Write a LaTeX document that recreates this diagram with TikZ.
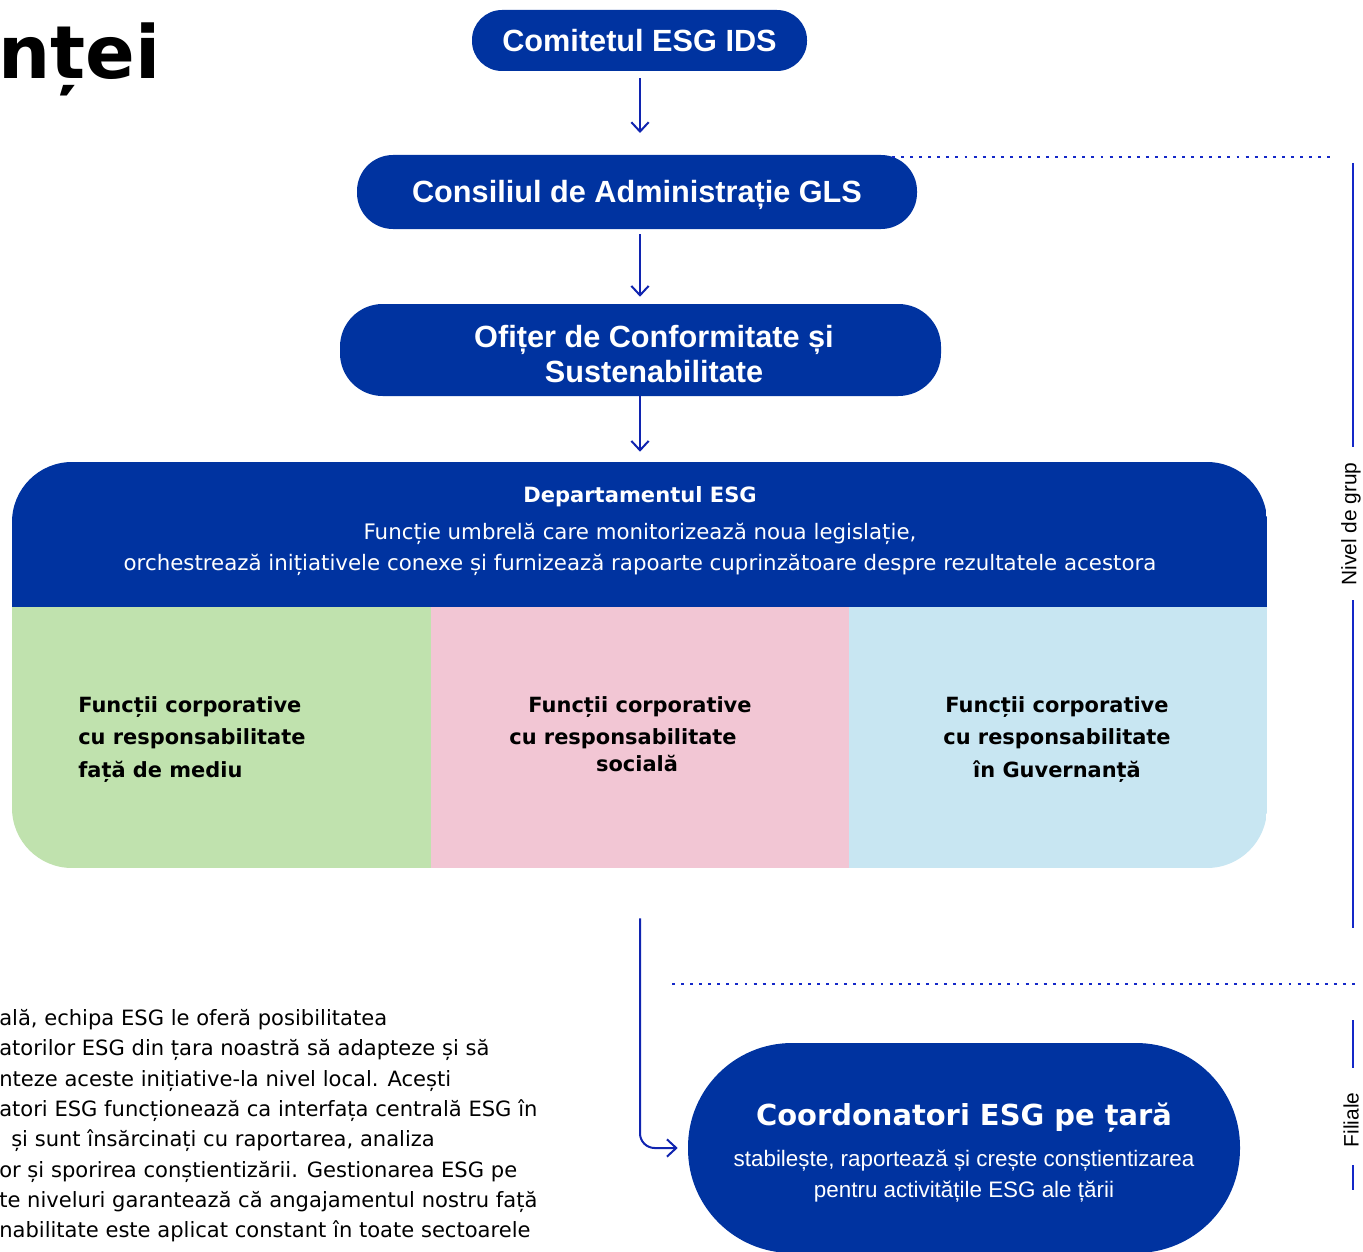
\documentclass[tikz,border=0pt]{standalone}
\usepackage{fontspec}
\setmainfont{DejaVu Sans}
\newfontfamily\tah{Liberation Sans}
\usetikzlibrary{arrows.meta}
\definecolor{navy}{RGB}{0,51,160}
\definecolor{lblue}{RGB}{16,36,176}
\definecolor{sblue}{RGB}{20,40,200}
\definecolor{gfill}{RGB}{192,226,174}
\definecolor{pfill}{RGB}{242,198,212}
\definecolor{bfill}{RGB}{200,230,242}
\begin{document}
\begin{tikzpicture}[x=0.75pt,y=-0.75pt,
  pill/.style={fill=navy, inner sep=0pt, text=white},
  hdr/.style={font=\tah\bfseries\fontsize{23}{30}\selectfont, text height=16.4pt, text depth=0pt},
  conn/.style={draw=lblue, line width=1.5pt, -{Straight Barb[length=7pt,width=13pt,line width=1.5pt]}},
  side/.style={draw=sblue, line width=1.6pt},
  dots/.style={draw=sblue, line width=2.2pt, dash pattern=on 2.2pt off 4.6pt},
  txt/.style={inner sep=0pt, anchor=base},
  para/.style={inner sep=0pt, anchor=base west, font=\fontsize{15.8}{20}\selectfont},
  cbox/.style={inner sep=0pt, anchor=base, font=\bfseries\fontsize{15.7}{20}\selectfont},
  wtxt/.style={inner sep=0pt, anchor=base, text=white, font=\fontsize{16}{20}\selectfont}
]
\useasboundingbox (0,0) rectangle (1363,1252);

% title fragment
\node[inner sep=0pt, anchor=base east, font=\bfseries\fontsize{55}{60}\selectfont] (title) at (161,79) {nței};

% top nodes
\node[pill, hdr, minimum width=335*0.75pt, minimum height=61*0.75pt, rounded corners=22.5pt] (comitet) at (639.5,40.5) {Comitetul ESG IDS};
\node[pill, hdr, minimum width=560*0.75pt, minimum height=74*0.75pt, rounded corners=27pt] (consiliu) at (637,192) {Consiliul de Administrație GLS};
\node[pill, minimum width=601*0.75pt, minimum height=92*0.75pt, rounded corners=32pt] (ofiter) at (640.5,350) {};
\node[txt, text=white, font=\tah\bfseries\fontsize{23}{30}\selectfont] (of1) at (654,347) {Ofițer de Conformitate și};
\node[txt, text=white, font=\tah\bfseries\fontsize{23}{30}\selectfont] (of2) at (654,382) {Sustenabilitate};

% big ESG box
\begin{scope}
\clip[rounded corners=45pt] (12,462) rectangle (1267,868);
\fill[navy] (12,462) rectangle (1267,607.5);
\fill[gfill] (12,607) rectangle (431,868);
\fill[pfill] (431,607) rectangle (849,868);
\fill[bfill] (849,607) rectangle (1267,868);
\end{scope}
\node[inner sep=0pt, minimum width=1255*0.75pt, minimum height=406*0.75pt] (esg) at (639.5,665) {};

\node[wtxt, font=\bfseries\fontsize{15.8}{20}\selectfont] (dep) at (640,502) {Departamentul ESG};
\node[wtxt] (dep1) at (640,539) {Funcție umbrelă care monitorizează noua legislație,};
\node[wtxt] (dep2) at (640,570) {orchestrează inițiativele conexe și furnizează rapoarte cuprinzătoare despre rezultatele acestora};

\node[cbox, anchor=base west] (g1) at (78,712) {Funcții corporative};
\node[cbox, anchor=base west] (g2) at (78,744) {cu responsabilitate};
\node[cbox, anchor=base west] (g3) at (78,777) {față de mediu};

\node[cbox] (p1) at (640,712) {Funcții corporative};
\node[cbox] (p2) at (623,744) {cu responsabilitate};
\node[cbox] (p3) at (637,771) {socială};

\node[cbox] (b1) at (1057,712) {Funcții corporative};
\node[cbox] (b2) at (1057,744) {cu responsabilitate};
\node[cbox] (b3) at (1057,777) {în Guvernanță};

% country coordinators
\node[pill, minimum width=552*0.75pt, minimum height=210*0.75pt, rounded corners=78pt] (coord) at (964,1148) {};
\node[txt, text=white, font=\bfseries\fontsize{21.7}{26}\selectfont] (c1) at (964,1125) {Coordonatori ESG pe țară};
\node[txt, text=white, font=\tah\fontsize{16.8}{22}\selectfont] (c2) at (964,1166) {stabilește, raportează și crește conștientizarea};
\node[txt, text=white, font=\tah\fontsize{16.8}{22}\selectfont] (c3) at (964,1197) {pentru activitățile ESG ale țării};

% connectors
\draw[conn, shorten <=5.25pt, shorten >=16.5pt] (comitet.south -| 640,0) -- (640,155);
\draw[conn, shorten <=3.75pt, shorten >=5.25pt] (consiliu.south -| 640,0) -- (ofiter.north -| 640,0);
\draw[conn, shorten >=7.5pt] (ofiter.south -| 640,0) -- (esg.north -| 640,0);
\draw[conn, rounded corners=11pt, shorten <=37.5pt, shorten >=7.5pt] (esg.south -| 640,0) |- (coord.west);

% level markers
\draw[dots] (892,157) -- (1335,157);
\draw[dots] (672,984) -- (1355,984);
\draw[side] (1353,163) -- (1353,447);
\draw[side] (1353,600) -- (1353,928);
\draw[side] (1353,1020) -- (1353,1068);
\draw[side] (1353,1165) -- (1353,1190);
\node[rotate=90, inner sep=0pt, font=\tah\fontsize{15.7}{18}\selectfont] (nivel) at (1351,524) {Nivel de grup};
\node[rotate=90, inner sep=0pt, font=\tah\fontsize{15.7}{18}\selectfont] (filiale) at (1351,1120) {Filiale};

% paragraph
\node[para] (l1) at (-1,1025) {ală, echipa ESG le oferă posibilitatea};
\node[para] (l2) at (-1,1055) {atorilor ESG din țara noastră să adapteze și să};
\node[para] (l3) at (-1,1086) {nteze aceste inițiative-la nivel local. Acești};
\node[para] (l4) at (-1,1116) {atori ESG funcționează ca interfața centrală ESG în};
\node[para] (l5) at (11,1146) {și sunt însărcinați cu raportarea, analiza};
\node[para] (l6) at (-1,1177) {or și sporirea conștientizării. Gestionarea ESG pe};
\node[para] (l7) at (-1,1207) {te niveluri garantează că angajamentul nostru față};
\node[para] (l8) at (-1,1237) {nabilitate este aplicat constant în toate sectoarele};
\end{tikzpicture}
\end{document}
